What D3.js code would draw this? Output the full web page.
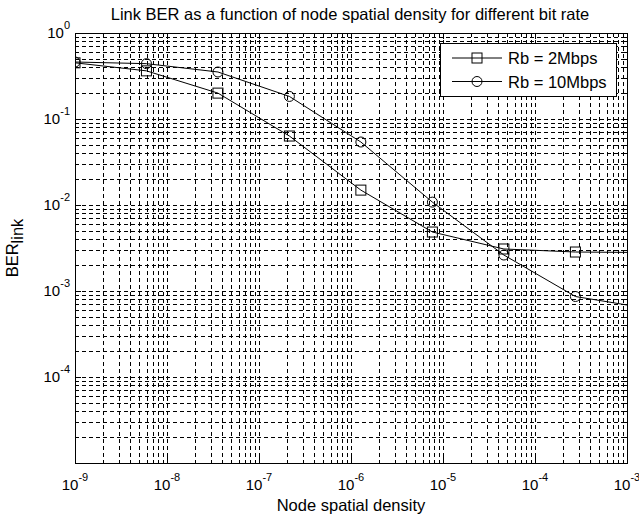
<!DOCTYPE html>
<html>
<head>
<meta charset="utf-8">
<script src="https://d3js.org/d3.v7.min.js"></script>
<style>
  body { margin: 0; background: #fff; }
  svg { display: block; font-family: Arial, "Liberation Sans", sans-serif; }
</style>
</head>
<body>
<svg id="frame" width="639" height="517"></svg>
<script>
  // node spatial density (x) and link BER for the two bit rates
  var density = [1e-9, 5.98e-9, 3.58e-8, 2.14e-7, 1.28e-6, 7.67e-6, 4.59e-5, 2.75e-4, 1.64e-3];
  var ber2 = [0.45, 0.363, 0.200, 0.0634, 0.0149, 0.00485, 0.00308, 0.00284, 0.0028];
  var ber10 = [0.46, 0.44, 0.352, 0.183, 0.054, 0.0108, 0.00262, 0.000863, 0.00063];
  var seriesNames = ["Rb = 2Mbps", "Rb = 10Mbps"];
  var xTickExp = [-9, -8, -7, -6, -5, -4, -3];
  var yTickExp = [0, -1, -2, -3, -4];

  var svg = d3.select('#frame');
  // plot box (note: "top" is reserved on window, so use pTop etc.)
  var pLeft = 75, pRight = 627, pTop = 33, pBottom = 463;

  var x = d3.scaleLog().domain([1e-9, 1e-3]).range([pLeft, pRight]);
  var y = d3.scaleLog().domain([1e-5, 1]).range([pBottom, pTop]);

  svg.append('rect')
    .attr('x', 0).attr('y', 0).attr('width', 639).attr('height', 517)
    .attr('fill', '#fff');

  svg.append('defs').append('clipPath').attr('id', 'plotClip')
    .append('rect')
    .attr('x', pLeft).attr('y', pTop)
    .attr('width', pRight - pLeft).attr('height', pBottom - pTop);

  // grid (major + minor, all dashed like matlab)
  var xt = x.ticks(60).filter(function(d){ return d > 1e-9 * 1.0001 && d < 1e-3 * 0.9999; });
  var yt = y.ticks(50).filter(function(d){ return d > 1e-5 * 1.0001 && d < 0.9999; });

  var grid = svg.append('g').attr('stroke', '#000').attr('stroke-width', 1)
    .attr('stroke-dasharray', '4,3').attr('shape-rendering', 'crispEdges');
  grid.selectAll('.gx').data(xt).enter().append('line')
    .attr('x1', function(d){ return Math.round(x(d)) + 0.5; })
    .attr('x2', function(d){ return Math.round(x(d)) + 0.5; })
    .attr('y1', pTop).attr('y2', pBottom);
  grid.selectAll('.gy').data(yt).enter().append('line')
    .attr('y1', function(d){ return Math.round(y(d)) + 0.5; })
    .attr('y2', function(d){ return Math.round(y(d)) + 0.5; })
    .attr('x1', pLeft).attr('x2', pRight);

  // tick marks inside on all sides
  function isMajor(d) {
    var l = Math.log10(d);
    return Math.abs(l - Math.round(l)) < 1e-6;
  }
  var ticks = svg.append('g').attr('stroke', '#000').attr('shape-rendering', 'crispEdges');
  xt.forEach(function(d) {
    var len = isMajor(d) ? 6 : 3;
    var px = Math.round(x(d)) + 0.5;
    ticks.append('line').attr('x1', px).attr('x2', px).attr('y1', pBottom).attr('y2', pBottom - len);
    ticks.append('line').attr('x1', px).attr('x2', px).attr('y1', pTop).attr('y2', pTop + len);
  });
  yt.forEach(function(d) {
    var len = isMajor(d) ? 6 : 3;
    var py = Math.round(y(d)) + 0.5;
    ticks.append('line').attr('y1', py).attr('y2', py).attr('x1', pLeft).attr('x2', pLeft + len);
    ticks.append('line').attr('y1', py).attr('y2', py).attr('x1', pRight).attr('x2', pRight - len);
  });

  // axes box
  svg.append('rect')
    .attr('x', pLeft + 0.5).attr('y', pTop + 0.5)
    .attr('width', pRight - pLeft).attr('height', pBottom - pTop)
    .attr('fill', 'none').attr('stroke', '#000').attr('stroke-width', 1)
    .attr('shape-rendering', 'crispEdges');

  // tick labels
  xTickExp.forEach(function(e) {
    var t = svg.append('text')
      .attr('x', x(Math.pow(10, e))).attr('y', 490)
      .attr('text-anchor', 'middle').attr('font-size', 15).attr('fill', '#000');
    t.append('tspan').text('10');
    t.append('tspan').attr('dy', -9).attr('font-size', 11).text(String(e));
  });
  yTickExp.forEach(function(e) {
    var t = svg.append('text')
      .attr('x', 70).attr('y', y(Math.pow(10, e)) + 5)
      .attr('text-anchor', 'end').attr('font-size', 15).attr('fill', '#000');
    t.append('tspan').text('10');
    t.append('tspan').attr('dy', -9).attr('font-size', 11).text(String(e));
  });

  // lines and markers
  var lineGen = d3.line()
    .x(function(d){ return x(d[0]); })
    .y(function(d){ return y(d[1]); });

  var plot = svg.append('g').attr('clip-path', 'url(#plotClip)');
  var data2 = density.map(function(d, i){ return [d, ber2[i]]; });
  var data10 = density.map(function(d, i){ return [d, ber10[i]]; });

  [data2, data10].forEach(function(s) {
    plot.append('path').attr('d', lineGen(s))
      .attr('fill', 'none').attr('stroke', '#000').attr('stroke-width', 1);
  });

  plot.selectAll('.sq').data(data2).enter().append('rect')
    .attr('x', function(d){ return x(d[0]) - 5; })
    .attr('y', function(d){ return y(d[1]) - 5; })
    .attr('width', 10).attr('height', 10)
    .attr('fill', 'none').attr('stroke', '#000').attr('stroke-width', 1);

  plot.selectAll('.ci').data(data10).enter().append('circle')
    .attr('cx', function(d){ return x(d[0]); })
    .attr('cy', function(d){ return y(d[1]); })
    .attr('r', 5)
    .attr('fill', 'none').attr('stroke', '#000').attr('stroke-width', 1);

  // legend
  var lg = svg.append('g');
  lg.append('rect')
    .attr('x', 440.5).attr('y', 43.5).attr('width', 176).attr('height', 53)
    .attr('fill', '#fff').attr('stroke', '#000').attr('shape-rendering', 'crispEdges');
  seriesNames.forEach(function(name, i) {
    var cy = 58 + i * 23.5;
    lg.append('line').attr('x1', 452).attr('x2', 502).attr('y1', cy).attr('y2', cy)
      .attr('stroke', '#000');
    if (i === 0) {
      lg.append('rect').attr('x', 472).attr('y', cy - 5).attr('width', 10).attr('height', 10)
        .attr('fill', 'none').attr('stroke', '#000');
    } else {
      lg.append('circle').attr('cx', 477).attr('cy', cy).attr('r', 5)
        .attr('fill', 'none').attr('stroke', '#000');
    }
    lg.append('text').attr('x', 508).attr('y', cy + 6)
      .attr('font-size', 16.5).attr('fill', '#000').text(name);
  });

  // title and axis labels
  svg.append('text')
    .attr('x', 350).attr('y', 20).attr('text-anchor', 'middle')
    .attr('font-size', 16.5).attr('fill', '#000')
    .text('Link BER as a function of node spatial density for different bit rate');

  svg.append('text')
    .attr('x', 351).attr('y', 511).attr('text-anchor', 'middle')
    .attr('font-size', 16.5).attr('fill', '#000')
    .text('Node spatial density');

  var yl = svg.append('text')
    .attr('transform', 'translate(18,248) rotate(-90)')
    .attr('text-anchor', 'middle').attr('font-size', 16.5).attr('fill', '#000');
  yl.append('tspan').text('BER');
  yl.append('tspan').attr('dy', 5).text('link');
</script>
</body>
</html>
